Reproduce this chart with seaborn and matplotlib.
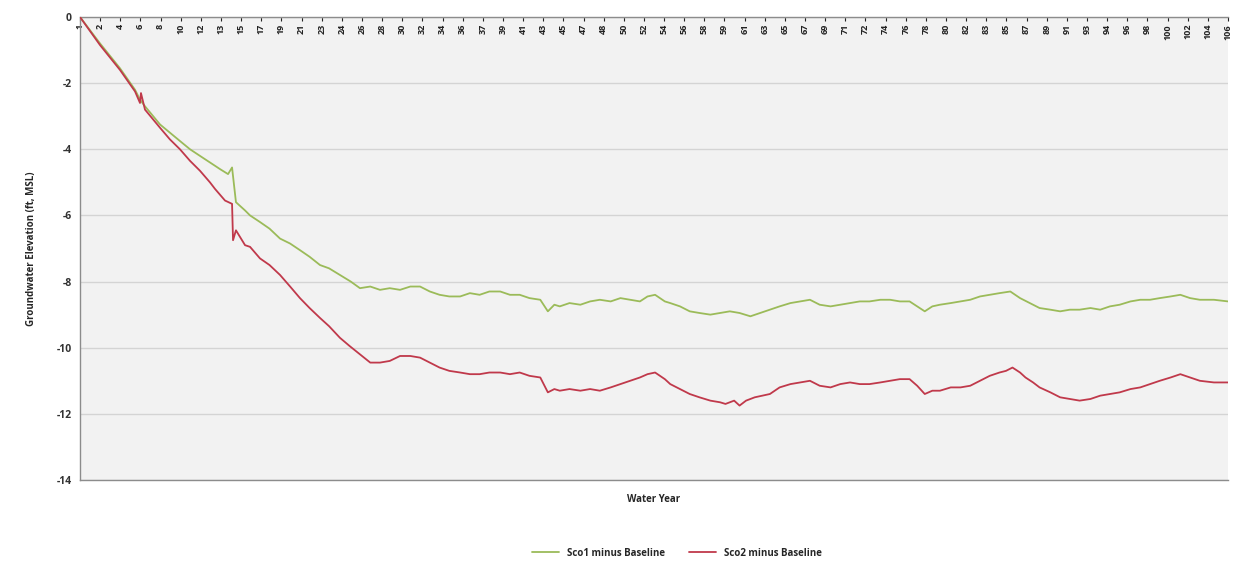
import numpy as np
import pandas as pd
import matplotlib
matplotlib.use("Agg")
import matplotlib.pyplot as plt
import seaborn as sns

# ---- data ----
sco1_year = [0, 1.85, 3.69, 5.08, 5.54, 6.0, 7.39, 9.23, 10.16, 11.08, 12.47, 12.93, 13.67, 14.04, 14.4,
             15.24, 15.7, 16.62, 17.5, 18.47, 19.4, 20.31, 21.2, 22.16, 23.0, 24.0, 25.0, 25.85, 26.8,
             27.7, 28.6, 29.55, 30.5, 31.4, 32.3, 33.2, 34.1, 35.1, 36.0, 36.9, 37.8, 38.8, 39.7, 40.6,
             41.5, 42.5, 43.2, 43.8, 44.3, 45.2, 46.2, 47.1, 48.0, 49.0, 49.9, 50.8, 51.7, 52.4, 53.1,
             54.0, 54.5, 55.4, 56.3, 57.2, 58.2, 59.1, 60.0, 60.9, 61.9, 62.8, 63.7, 64.6, 65.6, 66.5,
             67.4, 68.3, 69.3, 70.2, 71.1, 72.0, 72.9, 73.9, 74.8, 75.7, 76.6, 77.3, 78.0, 78.7, 79.4,
             80.4, 81.3, 82.2, 83.1, 84.0, 84.9, 85.9, 86.8, 87.7, 88.6, 89.6, 90.5, 91.4, 92.3, 93.3,
             94.2, 95.1, 96.0, 97.0, 97.9, 98.8, 99.7, 100.7, 101.6, 102.5, 103.4, 104.7, 106.0]
sco1_diff = [0, -0.8, -1.55, -2.2, -2.5, -2.7, -3.25, -3.75, -4.0, -4.2, -4.5, -4.6, -4.75, -4.55, -5.6,
             -5.85, -6.0, -6.2, -6.4, -6.7, -6.85, -7.05, -7.25, -7.5, -7.6, -7.8, -8.0, -8.2, -8.15,
             -8.25, -8.2, -8.25, -8.15, -8.15, -8.3, -8.4, -8.45, -8.45, -8.35, -8.4, -8.3, -8.3, -8.4, -8.4,
             -8.5, -8.55, -8.9, -8.7, -8.75, -8.65, -8.7, -8.6, -8.55, -8.6, -8.5, -8.55, -8.6, -8.45, -8.4,
             -8.6, -8.65, -8.75, -8.9, -8.95, -9.0, -8.95, -8.9, -8.95, -9.05, -8.95, -8.85, -8.75, -8.65, -8.6,
             -8.55, -8.7, -8.75, -8.7, -8.65, -8.6, -8.6, -8.55, -8.55, -8.6, -8.6, -8.75, -8.9, -8.75, -8.7,
             -8.65, -8.6, -8.55, -8.45, -8.4, -8.35, -8.3, -8.5, -8.65, -8.8, -8.85, -8.9, -8.85, -8.85, -8.8,
             -8.85, -8.75, -8.7, -8.6, -8.55, -8.55, -8.5, -8.45, -8.4, -8.5, -8.55, -8.55, -8.6]

sco2_year = [0, 1.85, 3.69, 5.08, 5.54, 5.63, 6.0, 7.39, 8.3, 9.23, 10.16, 11.08, 12.0, 12.47, 13.39,
             14.04, 14.13, 14.4, 15.24, 15.7, 16.62, 17.5, 18.47, 19.4, 20.31, 21.2, 22.16, 23.0, 24.0,
             24.9, 25.85, 26.8, 27.7, 28.6, 29.55, 30.5, 31.4, 32.3, 33.2, 34.1, 35.1, 36.0, 36.9, 37.8,
             38.8, 39.7, 40.6, 41.5, 42.5, 43.2, 43.8, 44.3, 45.2, 46.2, 47.1, 48.0, 49.0, 49.9, 50.8,
             51.7, 52.4, 53.1, 54.0, 54.5, 55.4, 56.3, 57.2, 58.2, 59.1, 59.6, 60.4, 60.9, 61.5, 62.3,
             63.0, 63.7, 64.6, 65.6, 66.5, 67.4, 68.3, 69.3, 70.2, 71.1, 72.0, 72.9, 73.9, 74.8, 75.7,
             76.6, 77.3, 78.0, 78.7, 79.4, 80.4, 81.3, 82.2, 83.1, 84.0, 84.9, 85.5, 86.1, 86.8, 87.3,
             88.0, 88.6, 89.6, 90.5, 91.4, 92.3, 93.3, 94.2, 95.1, 96.0, 97.0, 97.9, 98.8, 99.7, 100.7,
             101.6, 102.5, 103.4, 104.7, 106.0]
sco2_diff = [0, -0.85, -1.6, -2.25, -2.6, -2.3, -2.8, -3.35, -3.7, -4.0, -4.35, -4.65, -5.0, -5.2, -5.55,
             -5.65, -6.75, -6.45, -6.9, -6.95, -7.3, -7.5, -7.8, -8.15, -8.5, -8.8, -9.1, -9.35, -9.7,
             -9.95, -10.2, -10.45, -10.45, -10.4, -10.25, -10.25, -10.3, -10.45, -10.6, -10.7, -10.75, -10.8, -10.8, -10.75,
             -10.75, -10.8, -10.75, -10.85, -10.9, -11.35, -11.25, -11.3, -11.25, -11.3, -11.25, -11.3, -11.2, -11.1, -11.0,
             -10.9, -10.8, -10.75, -10.95, -11.1, -11.25, -11.4, -11.5, -11.6, -11.65, -11.7, -11.6, -11.75, -11.6, -11.5,
             -11.45, -11.4, -11.2, -11.1, -11.05, -11.0, -11.15, -11.2, -11.1, -11.05, -11.1, -11.1, -11.05, -11.0, -10.95,
             -10.95, -11.15, -11.4, -11.3, -11.3, -11.2, -11.2, -11.15, -11.0, -10.85, -10.75, -10.7, -10.6, -10.75, -10.9,
             -11.05, -11.2, -11.35, -11.5, -11.55, -11.6, -11.55, -11.45, -11.4, -11.35, -11.25, -11.2, -11.1, -11.0, -10.9,
             -10.8, -10.9, -11.0, -11.05, -11.05]

year_labels = ["1", "2", "4", "6", "8", "10", "12", "13", "15", "17", "19", "21", "23", "24", "26",
               "28", "30", "32", "34", "36", "37", "39", "41", "43", "45", "47", "48", "50", "52",
               "54", "56", "58", "59", "61", "63", "65", "67", "69", "71", "72", "74", "76", "78",
               "80", "82", "83", "85", "87", "89", "91", "93", "94", "96", "98", "100", "102", "104", "106"]
series_names = ["Sco1 minus Baseline", "Sco2 minus Baseline"]
y_ticks = [0, -2, -4, -6, -8, -10, -12, -14]

# ---- styling ----
sns.set_style("white")
plt.rcParams["font.family"] = ["Open Sans", "DejaVu Sans"]

fig = plt.figure(figsize=(12.37, 5.71), dpi=100)
ax = fig.add_axes([80 / 1237, 1 - 480 / 571, (1228 - 80) / 1237, (480 - 17) / 571])
ax.set_facecolor("#f2f2f2")

df1 = pd.DataFrame({"year": sco1_year, "diff": sco1_diff})
df2 = pd.DataFrame({"year": sco2_year, "diff": sco2_diff})
sns.lineplot(data=df1, x="year", y="diff", ax=ax, color="#9bbb59", lw=1.3,
             estimator=None, sort=False, label=series_names[0], zorder=3)
sns.lineplot(data=df2, x="year", y="diff", ax=ax, color="#c0394b", lw=1.3,
             estimator=None, sort=False, label=series_names[1], zorder=3)

ax.set_xlim(0, 106)
ax.set_ylim(-14, 0)
ax.set_yticks(y_ticks)
ax.set_yticklabels([str(v) for v in y_ticks], fontsize=7.5, fontweight="bold", color="#333333")
ax.grid(axis="y", color="#d4d4d4", lw=1)
ax.grid(axis="x", visible=False)

tick_pos = np.linspace(0, 106, len(year_labels))
ax.set_xticks(tick_pos)
ax.set_xticklabels(year_labels, rotation=90, fontsize=6.5, fontweight="bold")
ax.tick_params(axis="x", top=True, bottom=False, labeltop=True, labelbottom=False,
               direction="in", length=3, pad=-5, colors="#222222")
for lbl in ax.get_xticklabels():
    lbl.set_va("top")
ax.tick_params(axis="y", length=0, pad=6)

for side in ["left", "top", "bottom"]:
    ax.spines[side].set_color("#8c8c8c")
    ax.spines[side].set_linewidth(1)
ax.spines["right"].set_visible(False)

ax.set_xlabel("Water Year", fontsize=7, fontweight="bold", labelpad=10)
ax.set_ylabel("Groundwater Elevation (ft, MSL)", fontsize=7, fontweight="bold", labelpad=14)

ax.get_legend().remove()
handles, labels = ax.get_legend_handles_labels()
fig.legend(handles, labels, loc="center", bbox_to_anchor=(677 / 1237, 1 - 553 / 571),
           ncol=2, frameon=False, prop={"size": 7, "weight": "bold"},
           handlelength=2.8, columnspacing=2.5)

fig.savefig("out.png", dpi=100, facecolor="white")
